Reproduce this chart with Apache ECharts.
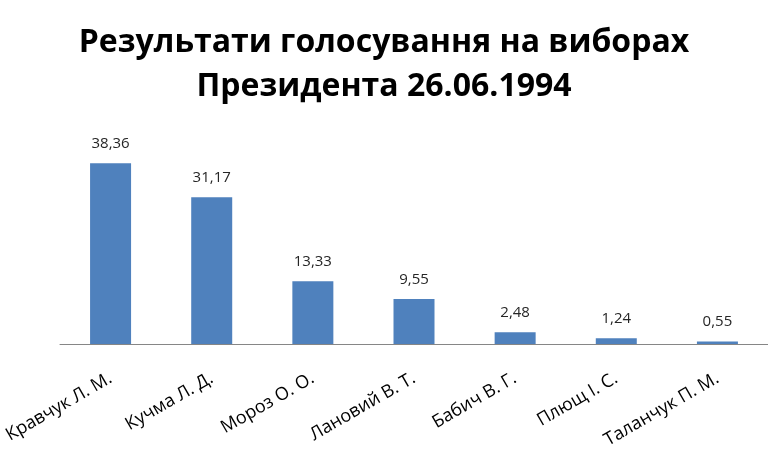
<!DOCTYPE html>
<html><head><meta charset="utf-8">
<script src="https://cdn.jsdelivr.net/npm/echarts@6/dist/echarts.min.js"></script>
<style>html,body{margin:0;padding:0;background:#fff}#c{width:768px;height:458px}</style>
</head><body><div id="c"></div>
<script>
const categories = ["Кравчук Л. М.", "Кучма Л. Д.", "Мороз О. О.", "Лановий В. Т.", "Бабич В. Г.", "Плющ І. С.", "Таланчук П. М."];
const values = [38.36, 31.17, 13.33, 9.55, 2.48, 1.24, 0.55];
const titleText = "Результати голосування на виборах\nПрезидента 26.06.1994";

const chart = echarts.init(document.getElementById('c'));
chart.setOption({
  animation: false,
  title: {
    text: titleText, left: 'center', top: 16,
    textStyle: { fontFamily: 'Open Sans', fontWeight: 'bold', fontSize: 32, lineHeight: 44, color: '#000' }
  },
  grid: { left: 60, right: -2, top: 132, bottom: 114 },
  xAxis: {
    type: 'category', data: categories,
    axisLine: { lineStyle: { color: '#868686', width: 1 } },
    axisTick: { show: false },
    axisLabel: { rotate: 30, margin: 33, fontFamily: 'Open Sans', fontSize: 18, color: '#000', interval: 0 }
  },
  yAxis: { type: 'value', min: 0, max: 45, show: false, splitLine: { show: false } },
  series: [{
    type: 'bar', data: values, barWidth: 41,
    itemStyle: { color: '#4F81BD' },
    label: { show: true, position: 'top', distance: 12, fontFamily: 'Open Sans', fontSize: 15, color: '#262626',
      formatter: p => p.value.toFixed(2).replace('.', ',') }
  }]
});
</script></body></html>
